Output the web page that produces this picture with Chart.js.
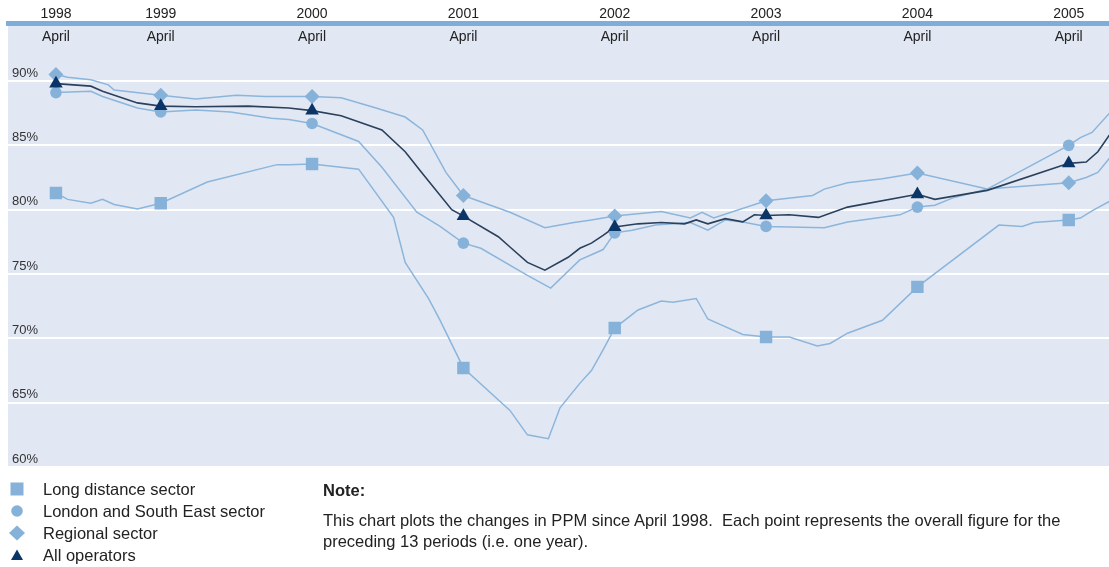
<!DOCTYPE html>
<html>
<head>
<meta charset="utf-8">
<script src="https://cdn.jsdelivr.net/npm/chart.js@4"></script>
<style>
  html, body { margin: 0; padding: 0; background: #ffffff; }
  #wrap { position: relative; width: 1109px; height: 567px; overflow: hidden; font-family: "Liberation Sans", Arial, sans-serif; color: #222; }
  #chart { position: absolute; left: 0; top: 0; }
  .leg { position: absolute; left: 0; top: 0; font-size: 16.5px; }
  .leg .row { position: absolute; left: 0; height: 22px; line-height: 22px; white-space: nowrap; }
  .leg svg { position: absolute; left: 9px; top: 3px; }
  .leg span { position: absolute; left: 43px; top: 0; }
  .note { position: absolute; left: 323px; top: 479px; font-size: 16.5px; white-space: nowrap; }
  .note b { display: block; height: 31px; line-height: 22px; }
  .note p { margin: 0; line-height: 21px; }
</style>
</head>
<body>
<div id="wrap">
  <canvas id="chart" width="1109" height="567"></canvas>
  <div class="leg" id="legend"></div>
  <div class="note"><b>Note:</b><p>This chart plots the changes in PPM since April 1998.&nbsp; Each point represents the overall figure for the<br>preceding 13 periods (i.e. one year).</p></div>
</div>
<script>
// ---- data (x = period index, 13 periods per year; April 1998 = 0) ----
const aprilPeriods = [0, 9, 22, 35, 48, 61, 74, 87];
const yearLabels = ['1998', '1999', '2000', '2001', '2002', '2003', '2004', '2005'];
const monthLabel = 'April';
const yTicks = [60, 65, 70, 75, 80, 85, 90];
const seriesNames = ['Long distance sector', 'London and South East sector', 'Regional sector', 'All operators'];

const longDistance = [[0,81.3],[1,80.8],[3,80.5],[4,80.8],[5,80.4],[7,80.05],[9,80.5],[13,82.15],[19,83.5],[20,83.5],[22,83.55],[26,83.15],[29,79.4],[30,75.9],[32,73.1],[33,71.4],[35,67.7],[39,64.4],[40.5,62.5],[42.3,62.2],[43.3,64.6],[45,66.5],[46,67.5],[47,69.1],[48,70.8],[50,72.2],[52,72.9],[53,72.8],[55,73.1],[56,71.5],[57,71.1],[59,70.3],[61,70.1],[63,70.1],[65.4,69.4],[66.5,69.6],[68,70.4],[71,71.4],[74,74.0],[81,78.8],[83,78.7],[84,79.0],[87,79.2],[88,79.35],[89,79.9],[91,80.9]];
const londonSE = [[0,89.1],[3,89.2],[4,88.8],[7,87.9],[9,87.6],[12,87.75],[15,87.6],[18.5,87.1],[20,87.0],[22,86.7],[26,85.3],[28,83.3],[31,79.8],[33,78.7],[35,77.4],[36.5,77.0],[40.5,74.9],[42.5,73.9],[45,76.1],[46,76.5],[47,76.9],[48,78.2],[49.5,78.4],[51.5,78.8],[54.5,79.0],[56,78.4],[57.5,79.2],[59,79.05],[61,78.7],[66,78.6],[68,79.05],[72.5,79.6],[74,80.2],[75.5,80.35],[77,80.9],[80,81.6],[87,85.0],[88,85.6],[89,86.0],[90.5,87.5],[91,88.0]];
const regional = [[0,90.5],[1,90.3],[3,90.1],[4.5,89.7],[5,89.3],[9,88.9],[12,88.6],[15.5,88.9],[18,88.8],[20,88.8],[22,88.8],[24.5,88.7],[27.5,87.9],[30,87.2],[31.5,86.2],[33.5,82.9],[35,81.1],[39,79.8],[42,78.6],[44.5,79.0],[46,79.2],[48,79.5],[52,79.85],[54.5,79.35],[55.5,79.8],[56.5,79.35],[61,80.7],[65,81.1],[66,81.6],[68,82.1],[71,82.4],[74,82.85],[80,81.6],[87,82.1],[88.5,82.5],[89.5,82.9],[90.5,84.0],[91,84.5]];
const allOperators = [[0,89.8],[3,89.6],[4,89.2],[7,88.3],[9,88.05],[12,88.0],[16.5,88.05],[20,87.9],[22,87.7],[24.5,87.3],[28,86.2],[30,84.5],[31.5,82.8],[34,80.0],[35,79.5],[38,77.9],[39,77.1],[40.5,75.9],[42,75.3],[44,76.3],[45,77.0],[46,77.4],[47,78.0],[48,78.65],[50,78.9],[52,79.0],[54,78.9],[55,79.2],[56,78.9],[57.5,79.3],[59,79.05],[60,79.6],[61,79.55],[63,79.6],[65.5,79.4],[68,80.2],[74,81.2],[75.5,80.8],[80,81.5],[87,83.6],[88.5,83.7],[89.5,84.5],[90.5,85.8],[91,86.3]];

// ---- styling ----
const LIGHT = '#8cb5db';
const MARK = '#86b2da';
const DARK = '#0b3566';
const DARKLINE = '#2b405c';
const PLOT_BG = '#e1e8f3';
const FONT = '"Liberation Sans", Arial, sans-serif';

const toXY = arr => arr.map(([x, y]) => ({x, y}));
const aprilPoints = arr => aprilPeriods.map(p => { const f = arr.find(d => d[0] === p); return {x: p, y: f[1]}; });

const lineDs = (label, arr, color, width) => ({
  label, data: toXY(arr), borderColor: color, borderWidth: width, pointRadius: 0, fill: false, tension: 0, spanGaps: true
});
const markDs = (label, arr, style, radius, color) => ({
  label, data: aprilPoints(arr), showLine: false, pointStyle: style, pointRadius: radius,
  pointBackgroundColor: color, pointBorderColor: color, pointBorderWidth: 0, borderColor: color
});

const bgPlugin = {
  id: 'plotBg',
  beforeDraw(chart) {
    const {ctx, chartArea: a} = chart;
    ctx.save();
    ctx.fillStyle = PLOT_BG;
    ctx.fillRect(a.left, a.top, a.right - a.left, a.bottom - a.top);
    ctx.restore();
  }
};
const monthPlugin = {
  id: 'monthLabels',
  afterDraw(chart) {
    const {ctx, chartArea: a} = chart;
    const sx = chart.scales.x;
    ctx.save();
    ctx.font = '14px ' + FONT;
    ctx.fillStyle = '#222';
    ctx.textAlign = 'center';
    ctx.textBaseline = 'middle';
    aprilPeriods.forEach(p => ctx.fillText(monthLabel, sx.getPixelForValue(p), a.top + 13.5));
    ctx.restore();
  }
};

// Chart.js paints lower dataset indices on top, so markers come first, then the dark line, then light lines.
new Chart(document.getElementById('chart'), {
  type: 'line',
  data: {
    datasets: [
      markDs(seriesNames[3], allOperators, 'triangle', 7.8, DARK),
      markDs(seriesNames[2], regional, 'rectRot', 7.5, MARK),
      markDs(seriesNames[1], londonSE, 'circle', 5.8, MARK),
      markDs(seriesNames[0], longDistance, 'rect', 8.8, MARK),
      lineDs(seriesNames[3], allOperators, DARKLINE, 1.6),
      lineDs(seriesNames[2], regional, LIGHT, 1.5),
      lineDs(seriesNames[1], londonSE, LIGHT, 1.5),
      lineDs(seriesNames[0], longDistance, LIGHT, 1.5)
    ]
  },
  options: {
    responsive: false,
    animation: false,
    layout: { autoPadding: false, padding: { left: 0, right: 0, top: 0, bottom: 100 } },
    plugins: { legend: { display: false }, tooltip: { enabled: false } },
    scales: {
      x: {
        type: 'linear', position: 'top', min: -4.12, max: 90.46,
        afterBuildTicks: s => { s.ticks = aprilPeriods.map(v => ({value: v})); },
        afterFit: s => { s.height = 23.5; s.paddingLeft = 0; s.paddingRight = 0; },
        ticks: {
          autoSkip: false, maxRotation: 0, padding: 1, color: '#222',
          font: { family: FONT, size: 14 },
          callback: (v) => yearLabels[aprilPeriods.indexOf(v)]
        },
        grid: { display: false, drawTicks: false },
        border: { display: true, color: '#7fadd9', width: 5 }
      },
      y: {
        type: 'linear', position: 'left', min: 60, max: 94.47,
        afterBuildTicks: s => { s.ticks = yTicks.map(v => ({value: v})); },
        ticks: {
          mirror: true, padding: 4, labelOffset: -8, color: '#333',
          font: { family: FONT, size: 13 },
          callback: v => v + '%'
        },
        grid: { color: '#ffffff', lineWidth: 2, drawTicks: false },
        border: { display: false }
      }
    }
  },
  plugins: [bgPlugin, monthPlugin]
});

// ---- HTML legend (vertical list) ----
const shapes = [
  '<svg width="16" height="16"><rect x="1.5" y="1.5" width="13" height="13" fill="' + MARK + '"/></svg>',
  '<svg width="16" height="16"><circle cx="8" cy="8" r="5.8" fill="' + MARK + '"/></svg>',
  '<svg width="16" height="16"><polygon points="8,0.5 16,8 8,15.5 0,8" fill="' + MARK + '"/></svg>',
  '<svg width="16" height="16"><polygon points="8,2.5 14,13 2,13" fill="' + DARK + '"/></svg>'
];
const leg = document.getElementById('legend');
seriesNames.forEach((n, i) => {
  const row = document.createElement('div');
  row.className = 'row';
  row.style.top = (478 + i * 22) + 'px';
  row.innerHTML = shapes[i] + '<span>' + n + '</span>';
  leg.appendChild(row);
});
</script>
</body>
</html>
